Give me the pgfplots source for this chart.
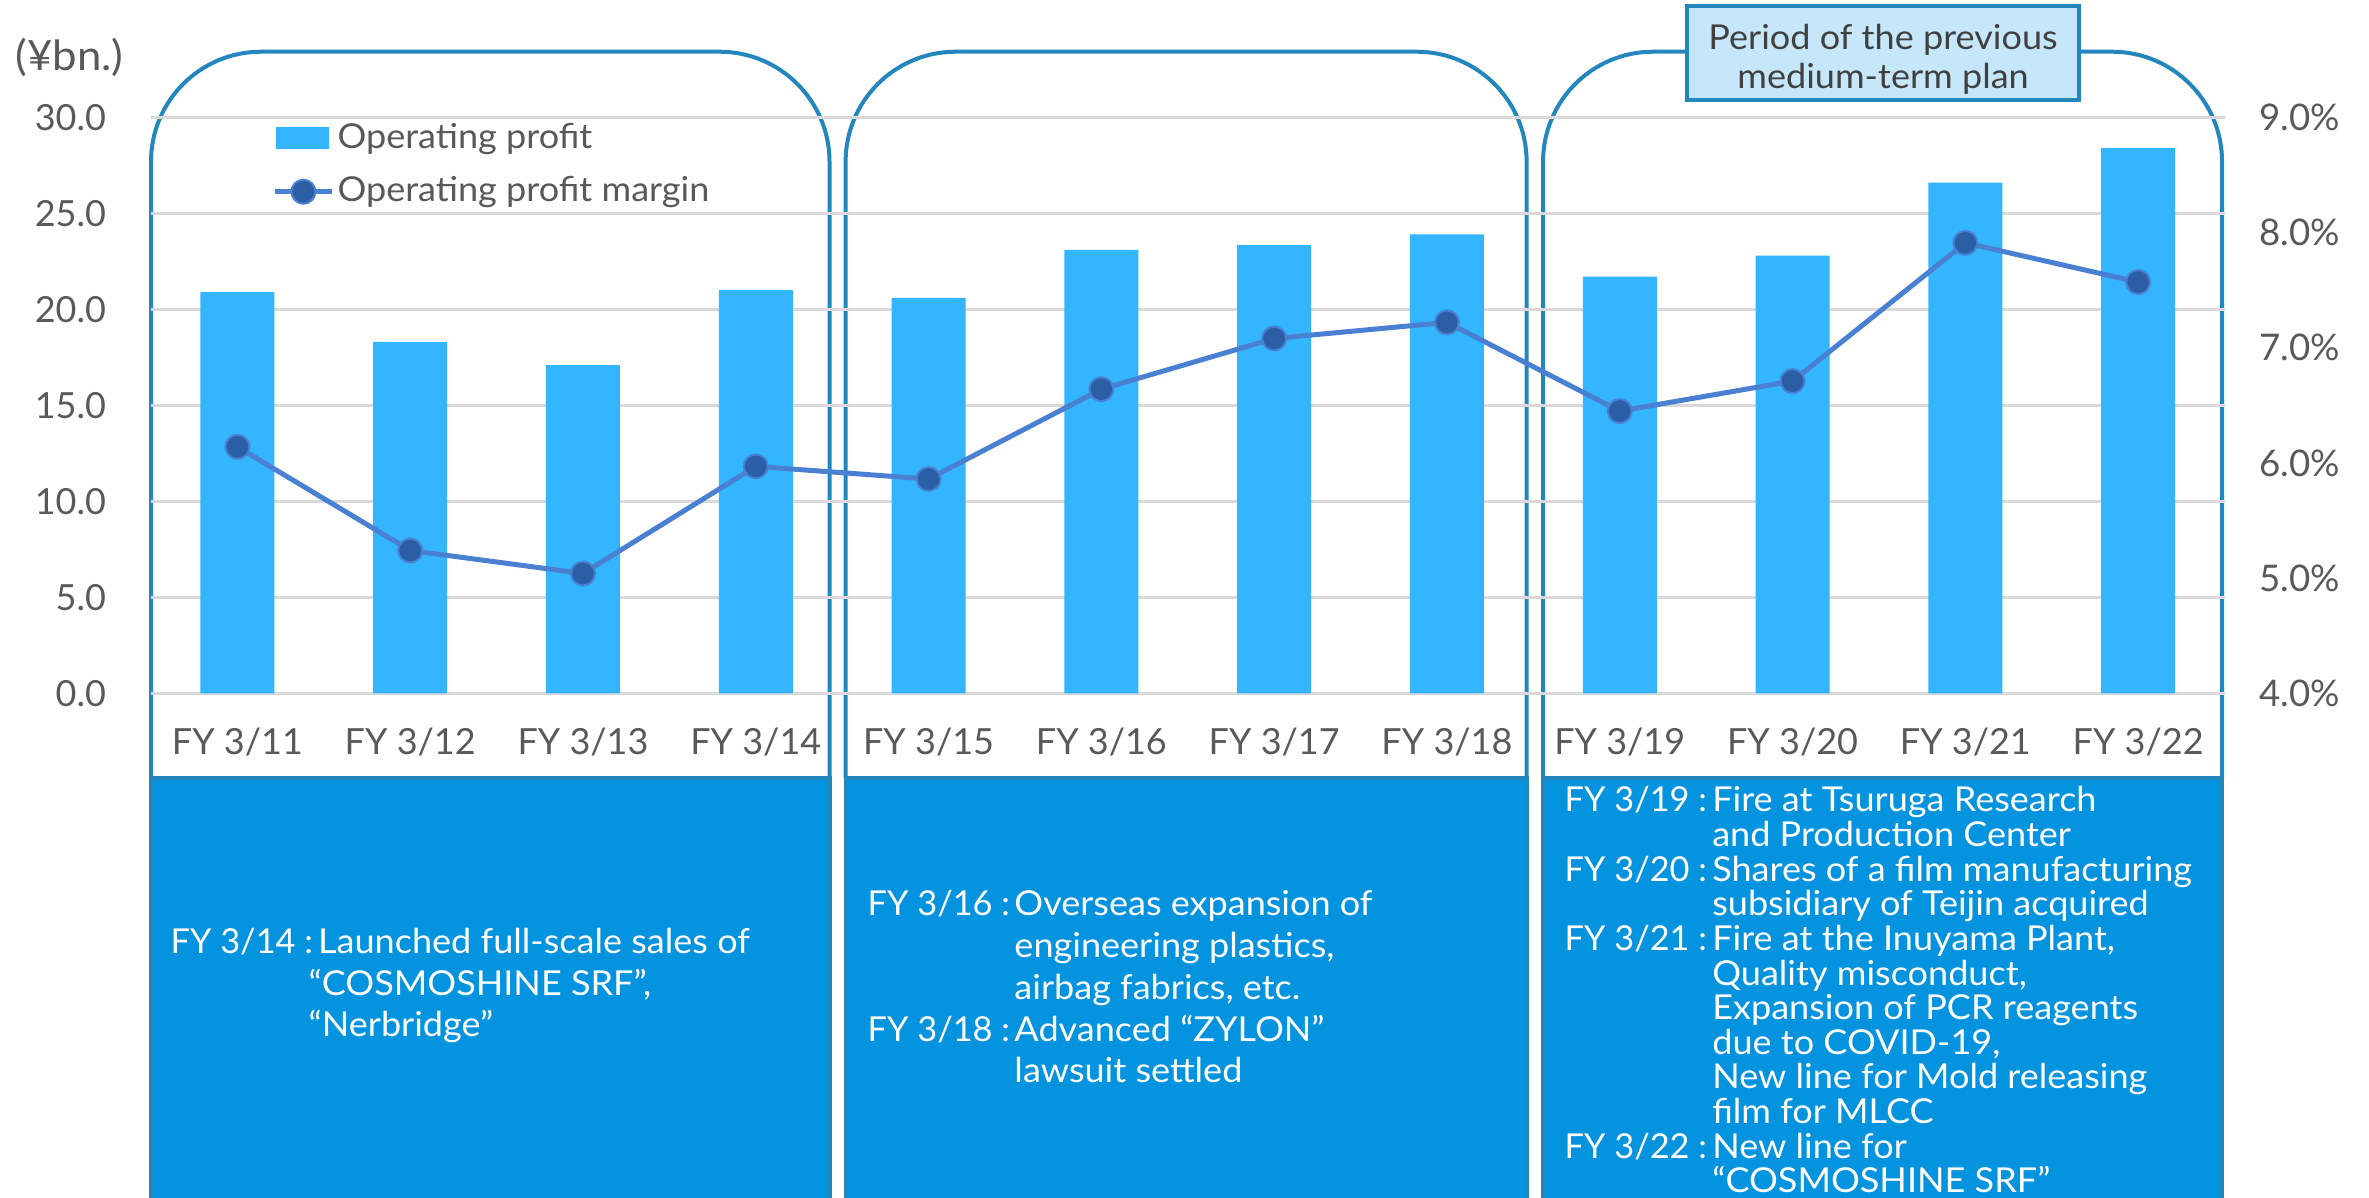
\documentclass[border=0pt]{standalone}
\usepackage{pgfplots}
\pgfplotsset{compat=1.18}
\usepackage{fontspec}
\setmainfont{Lato}
\newfontfamily\wide[FakeStretch=1.05]{Lato}
\pgfplotsset{/pgf/number format/assume math mode=true}
\definecolor{barblue}{HTML}{33B5FF}
\definecolor{linecol}{HTML}{4A80D2}
\definecolor{markfill}{HTML}{2A5FA6}
\definecolor{boxline}{HTML}{2387BE}
\definecolor{boxfill}{HTML}{0393DF}
\definecolor{titlefill}{HTML}{C6E7FA}
\definecolor{txtgrey}{HTML}{595959}
\definecolor{titlegrey}{HTML}{404040}
\definecolor{gridgrey}{HTML}{D9D9D9}
\begin{document}
\begin{tikzpicture}
\useasboundingbox (0pt,0pt) rectangle (710.7pt,-359.1pt);
\begin{scope}[x=0.3pt,y=-0.3pt]
% rounded period boxes
\tikzset{pbox/.style={boxline, line width=1.2pt, rounded corners=33pt}}
\draw[pbox] (151,778) -- (151,51.7) -- (829.5,51.7) -- (829.5,778);
\draw[pbox] (845.6,778) -- (845.6,51.7) -- (1526.6,51.7) -- (1526.6,778);
\draw[pbox] (1543,778) -- (1543,51.7) -- (2222,51.7) -- (2222,778);
\filldraw[fill=boxfill, draw=boxline, line width=1.2pt] (151,778) rectangle (829.5,1215);
\filldraw[fill=boxfill, draw=boxline, line width=1.2pt] (845.6,778) rectangle (1526.6,1215);
\filldraw[fill=boxfill, draw=boxline, line width=1.2pt] (1543,778) rectangle (2222,1215);
% title box
\filldraw[fill=titlefill, draw=boxline, line width=1.2pt] (1686.8,6) rectangle (2079,100);
\node[align=center, text=titlegrey, font=\wide\fontsize{10.3}{11.6}\selectfont, inner sep=0pt] at (1883,59) {Period of the previous\\medium-term plan};
% unit label
\node[text=txtgrey, font=\wide\fontsize{12.5}{14}\selectfont, inner sep=0pt] at (69.5,57) {(¥bn.)};
% annotations
\tikzset{ann/.style={anchor=base west, text=white, font=\wide\fontsize{10.3}{11}\selectfont, inner sep=0pt},
         lab/.style={anchor=base west, text=white, font=\fontsize{10.3}{11}\selectfont, inner sep=0pt}}
\node[lab] at (170,953) {FY 3/14 :};
\node[ann] at (317.5,953) {Launched full-scale sales of};
\node[ann] at (308,995) {“COSMOSHINE SRF”,};
\node[ann] at (308,1036.7) {“Nerbridge”};
\node[lab] at (867,915.7) {FY 3/16 :};
\node[ann] at (1013.8,915.7) {Overseas expansion of};
\node[ann] at (1013.8,957.5) {engineering plastics,};
\node[ann] at (1013.8,999.3) {airbag fabrics, etc.};
\node[lab] at (867,1041) {FY 3/18 :};
\node[ann] at (1013.8,1041) {Advanced “ZYLON”};
\node[ann] at (1013.8,1082.8) {lawsuit settled};
\node[lab] at (1564,811.7) {FY 3/19 :};
\node[ann] at (1711.6,811.7) {Fire at Tsuruga Research};
\node[ann] at (1711.6,846.4) {and Production Center};
\node[lab] at (1564,881.0) {FY 3/20 :};
\node[ann] at (1711.6,881.0) {Shares of a film manufacturing};
\node[ann] at (1711.6,915.7) {subsidiary of Teijin acquired};
\node[lab] at (1564,950.3) {FY 3/21 :};
\node[ann] at (1711.6,950.3) {Fire at the Inuyama Plant,};
\node[ann] at (1711.6,985.0) {Quality misconduct,};
\node[ann] at (1711.6,1019.6) {Expansion of PCR reagents};
\node[ann] at (1711.6,1054.3) {due to COVID-19,};
\node[ann] at (1711.6,1088.9) {New line for Mold releasing};
\node[ann] at (1711.6,1123.6) {film for MLCC};
\node[lab] at (1564,1158.2) {FY 3/22 :};
\node[ann] at (1711.6,1158.2) {New line for};
\node[ann] at (1711.6,1192.9) {“COSMOSHINE SRF”};
\end{scope}
% bar axis
\begin{axis}[
  at={(45.3pt,-207.99pt)}, anchor=south west,
  scale only axis, width=622.05pt, height=172.8pt,
  xmin=-0.5, xmax=11.5, ymin=0, ymax=30,
  xtick={0,...,11},
  xticklabels={FY 3/11,FY 3/12,FY 3/13,FY 3/14,FY 3/15,FY 3/16,FY 3/17,FY 3/18,FY 3/19,FY 3/20,FY 3/21,FY 3/22},
  ytick={0,5,...,30},
  ymajorgrids, grid style={gridgrey, line width=0.9pt},
  axis line style={draw=none}, major tick length=0pt,
  ticklabel style={text=txtgrey, font=\fontsize{10.8}{13}\selectfont},
  yticklabel style={/pgf/number format/.cd, fixed, fixed zerofill, precision=1, /tikz/.cd, xshift=-10pt},
  xticklabel style={yshift=-7pt},
  ybar, bar width=22.2pt,
]
\addplot[fill=barblue, draw=none] coordinates {
(0,20.9) (1,18.3) (2,17.1) (3,21.0) (4,20.6) (5,23.1) (6,23.35) (7,23.9) (8,21.7) (9,22.8) (10,26.6) (11,28.4)};
\end{axis}
% line axis
\begin{axis}[
  at={(45.3pt,-207.99pt)}, anchor=south west,
  scale only axis, width=622.05pt, height=172.8pt,
  xmin=-0.5, xmax=11.5, ymin=4, ymax=9,
  axis x line=none, axis y line*=right,
  axis line style={draw=none}, major tick length=0pt,
  ytick={4,5,...,9},
  yticklabel={\pgfmathprintnumber[fixed,fixed zerofill,precision=1]{\tick}\%},
  yticklabel style={text=txtgrey, font=\fontsize{11}{13}\selectfont, xshift=7pt},
  legend style={at={(0.0535,1.0144)}, anchor=north west, draw=none, fill=none,
    font=\wide\fontsize{10.3}{12}\selectfont, text=txtgrey, row sep=3pt,
    nodes={inner xsep=1pt}},
  legend cell align=left,
]
\addlegendimage{legend image code/.code={\fill[barblue] (0pt,-3pt) rectangle (15.6pt,3pt);}}
\addlegendentry{Operating profit}
\addplot[linecol, line width=1.5pt, mark=*, mark size=3.6pt, mark options={fill=markfill, draw=linecol, line width=0.6pt},
  legend image code/.code={\draw[linecol, line width=1.5pt] (-0.5pt,0pt) -- (16.5pt,0pt); \fill[markfill, draw=linecol, line width=0.6pt] (8pt,0pt) circle (3.6pt);}] coordinates {
(0,6.14) (1,5.24) (2,5.04) (3,5.97) (4,5.86) (5,6.64) (6,7.08) (7,7.22) (8,6.45) (9,6.71) (10,7.91) (11,7.57)};
\addlegendentry{Operating profit margin}
\end{axis}
\end{tikzpicture}
\end{document}
